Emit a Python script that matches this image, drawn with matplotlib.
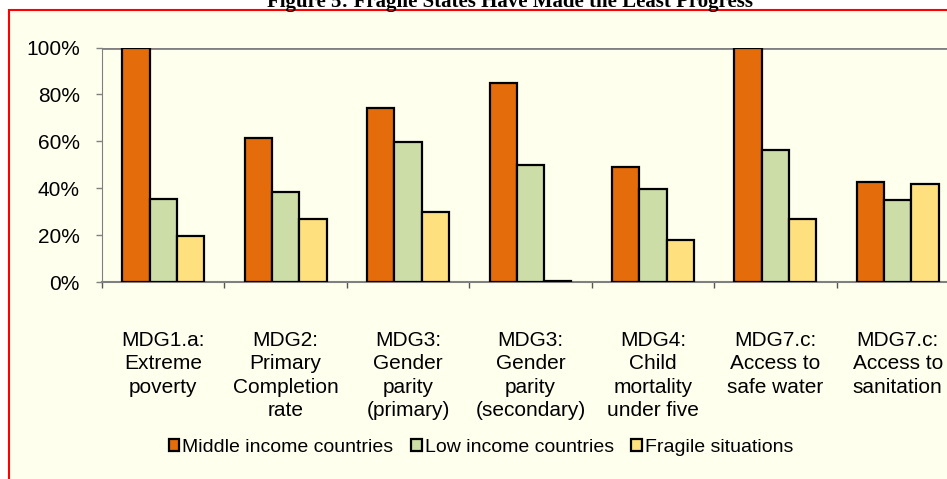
import matplotlib
matplotlib.use("Agg")
import matplotlib.pyplot as plt
from matplotlib.patches import Rectangle
import numpy as np

plt.rcParams['font.family'] = ['Liberation Sans', 'DejaVu Sans']

categories = ["MDG1.a:\nExtreme\npoverty",
              "MDG2:\nPrimary\nCompletion\nrate",
              "MDG3:\nGender\nparity\n(primary)",
              "MDG3:\nGender\nparity\n(secondary)",
              "MDG4:\nChild\nmortality\nunder five",
              "MDG7.c:\nAccess to\nsafe water",
              "MDG7.c:\nAccess to\nsanitation"]
series_names = ["Middle income countries", "Low income countries", "Fragile situations"]
middle_income = [100, 61.5, 74, 85, 49, 100, 42.5]
low_income = [35.3, 38.5, 59.5, 50, 39.5, 56.5, 35]
fragile = [19.7, 26.8, 30, 0.5, 18, 27, 42]
colors = ["#E46C0A", "#CCDDA8", "#FFE07F"]

W, H = 947, 479
fig = plt.figure(figsize=(W / 100, H / 100), dpi=100)
fig.patch.set_facecolor("white")

# panel with red border (right/bottom edges fall outside the image)
panel = Rectangle((8.5 / W, -0.2), 1.2, 1.2 - 10 / H, transform=fig.transFigure,
                  facecolor="#FFFFEE", edgecolor="red", linewidth=1.5, zorder=-5)
fig.patches.append(panel)

fig.text(510 / W, 1 - 7 / H, "Figure 5: Fragile States Have Made the Least Progress",
         ha="center", va="baseline", fontsize=15, fontweight="bold",
         family="Liberation Serif")

ax = fig.add_axes([102 / W, 1 - 282 / H, 857 / W, (282 - 47.5) / H])
ax.set_facecolor("none")
ax.set_zorder(2)

x = np.arange(len(categories))
w = 0.223
all_series = [middle_income, low_income, fragile]
for i, (vals, name, c) in enumerate(zip(all_series, series_names, colors)):
    ax.bar(x + (i - 1) * w, np.array(vals) / 100, w, color=c, edgecolor="black",
           linewidth=1.6, label=name, zorder=3)

ax.set_xlim(-0.5, len(categories) - 0.5)
ax.set_ylim(0, 1)
ax.axhline(1.0, color="#808080", linewidth=2, zorder=1)

ax.set_yticks([0, 0.2, 0.4, 0.6, 0.8, 1.0])
ax.set_yticklabels(["0%", "20%", "40%", "60%", "80%", "100%"], fontsize=15)
ax.tick_params(axis="y", length=4, width=1, color="#808080", pad=12)

ax.set_xticks(np.arange(len(categories) + 1) - 0.5)
ax.set_xticklabels([])
ax.set_xticks(x, minor=True)
ax.set_xticklabels(categories, minor=True, fontsize=15, linespacing=1.3)
ax.tick_params(axis="x", which="major", length=4, width=1, color="#555555")
ax.tick_params(axis="x", which="minor", length=0, pad=35)

for s in ["top", "right"]:
    ax.spines[s].set_visible(False)
ax.spines["left"].set_color("#808080")
ax.spines["bottom"].set_color("#808080")
ax.spines["bottom"].set_linewidth(1.5)

fig.legend(loc="center", bbox_to_anchor=(481 / W, 1 - 447.5 / H), ncol=3, frameon=False,
           fontsize=14, handlelength=0.55, handleheight=0.55, handletextpad=0.15,
           columnspacing=0.9)

fig.savefig("out.png", dpi=100)
